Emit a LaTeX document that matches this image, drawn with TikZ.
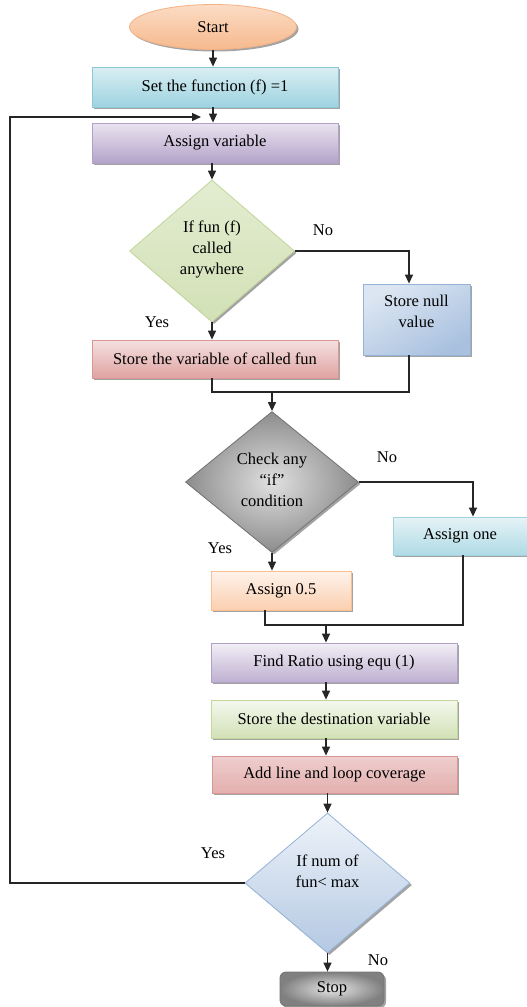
\documentclass[tikz,border=0pt]{standalone}
\usepackage{fontspec}
\setmainfont{Liberation Serif}
\usetikzlibrary{shapes.geometric,shadows,arrows.meta}
\definecolor{tealA}{HTML}{DAEEF3}\definecolor{tealB}{HTML}{9DD3E0}\definecolor{tealC}{HTML}{8CC8D8}
\definecolor{purA}{HTML}{E9E4F0}\definecolor{purB}{HTML}{B4A3C9}\definecolor{purC}{HTML}{B2A1C7}
\definecolor{grnA}{HTML}{EEF4E2}\definecolor{grnB}{HTML}{D2E1B6}\definecolor{grnC}{HTML}{C3D69B}
\definecolor{bluA}{HTML}{DCE6F2}\definecolor{bluB}{HTML}{A9C1DF}\definecolor{bluC}{HTML}{95B3D7}
\definecolor{redA}{HTML}{F4E1E0}\definecolor{redB}{HTML}{DFA3A2}\definecolor{redC}{HTML}{D99694}
\definecolor{orA}{HTML}{FEF3EC}\definecolor{orB}{HTML}{FBCFAF}\definecolor{orC}{HTML}{FABF8F}
\definecolor{stA}{HTML}{FBDCC5}\definecolor{stB}{HTML}{F6B98D}\definecolor{stC}{HTML}{F4B183}
\definecolor{gryC}{HTML}{8C8C8C}
\begin{document}
\begin{tikzpicture}[x=1pt,y=-1pt,
  font=\fontsize{16.5}{21}\selectfont,
  shad/.style={drop shadow={shadow xshift=2pt,shadow yshift=-2pt,fill=black!45,opacity=0.8}},
  boxst/.style={rectangle,draw=#1C,line width=0.8pt,shad,inner sep=0pt,align=center},
  diast/.style={diamond,draw=#1C,line width=0.8pt,shad,inner sep=0pt,aspect=1},
  txt/.style={align=center,inner sep=0pt},
  lab/.style={inner sep=0pt},
  ln/.style={line width=1.3pt,black!85},
  arr/.style={ln,-{Triangle[length=9pt,width=8pt]}}]
\useasboundingbox (0,0) rectangle (527,1007);
% nodes
\node[ellipse,draw=stC,line width=0.8pt,shad,top color=stA,bottom color=stB,
  minimum width=167pt,minimum height=45pt,inner sep=0pt] (start) at (213,27) {Start};
\node[boxst=teal,top color=tealA,bottom color=tealB,minimum width=246pt,minimum height=40pt]
  (setf) at (215,87) {Set the function (f) =1};
\node[boxst=pur,top color=purA,bottom color=purB,minimum width=246pt,minimum height=40pt]
  (assign) at (215,143) {Assign variable};
\node[diast=grn,top color=grnA!60!grnB,bottom color=grnB,minimum width=165pt,minimum height=142pt]
  (d1) at (212,251) {};
\node[txt] (d1t) at (212,249) {If fun (f)\\called\\anywhere};
\node[boxst=blu,top color=bluA,bottom color=bluB,shading angle=30,minimum width=107pt,minimum height=71pt]
  (nullv) at (416.5,319.5) {};
\node[txt] (nullt) at (416.5,311) {Store null\\value};
\node[boxst=red,top color=redA,bottom color=redB,minimum width=246pt,minimum height=38pt]
  (storevar) at (215,359) {Store the variable of called fun};
\node[diast=gry,draw=black!55,inner color=black!12,outer color=black!45,minimum width=173pt,minimum height=141pt]
  (d2) at (272,482) {};
\node[txt] (d2t) at (272,480) {Check any\\“if”\\condition};
\node[boxst=teal,draw=tealC!80,top color=tealA!70!white,bottom color=tealB!70!tealA,minimum width=134pt,minimum height=38pt]
  (assign1) at (460,536) {Assign one};
\node[boxst=or,top color=orA,bottom color=orB,minimum width=140pt,minimum height=39pt]
  (a05) at (281,590.5) {Assign 0.5};
\node[boxst=pur,top color=purA!60!white,bottom color=purB!80!purA,minimum width=246pt,minimum height=39pt]
  (ratio) at (334,662.5) {Find Ratio using equ (1)};
\node[boxst=grn,top color=grnA!60!white,bottom color=grnB,minimum width=246pt,minimum height=38pt]
  (dest) at (334,719) {Store the destination variable};
\node[boxst=red,top color=redA!70!redB,bottom color=redB!80!redA,minimum width=245pt,minimum height=37pt]
  (addl) at (334.5,774.5) {Add line and loop coverage};
\node[diast=blu,top color=bluA!50!white,bottom color=bluB!80!bluA,minimum width=165pt,minimum height=140pt]
  (d3) at (327.5,883) {};
\node[txt] (d3t) at (327.5,871) {If num of\\fun< max};
\node[rectangle,rounded corners=6pt,draw=black!55,line width=0.8pt,shad,inner color=black!10,outer color=black!50,
  minimum width=104pt,minimum height=34pt,inner sep=0pt] (stop) at (332,989) {Stop};
% labels
\node[lab] (l1) at (323,230) {No};
\node[lab] (l2) at (157,322) {Yes};
\node[lab] (l3) at (387,457) {No};
\node[lab] (l4) at (220,548) {Yes};
\node[lab] (l5) at (213,853) {Yes};
\node[lab] (l6) at (378,960) {No};
% coordinates
\coordinate (m1) at (272,392);
\coordinate (m2) at (326,625);
\coordinate (loopc) at (10,117);
\coordinate (loopend) at (201,117);
% connectors
\draw[arr] (start.south) -- (start.south |- setf.north);
\draw[arr] (setf.south -| start.south) -- (start.south |- assign.north);
\draw[arr] (assign.south -| d1.north) -- (d1.north);
\draw[arr] (d1.east) -| ([xshift=-7.5pt]nullv.north);
\draw[arr] (d1.south) -- (d1.south |- storevar.north);
\draw[ln] ([xshift=-3pt]storevar.south) |- (m1) -| ([xshift=-7.5pt]nullv.south);
\draw[arr] (m1) -- (d2.north);
\draw[arr] (d2.east) -| ([xshift=13pt]assign1.north);
\draw[arr] (d2.south) -- (d2.south |- a05.north);
\draw[ln] ([xshift=-16pt]a05.south) |- (m2) -| ([xshift=3pt]assign1.south);
\draw[arr] (m2) -- (m2 |- ratio.north);
\draw[arr] (m2 |- ratio.south) -- (m2 |- dest.north);
\draw[arr] (m2 |- dest.south) -- (m2 |- addl.north);
\draw[arr] (addl.south -| d3.north) -- (d3.north);
\draw[arr] (d3.south) -- (d3.south |- stop.north);
\draw[arr] (d3.west) -| (loopc) -- (loopend);
\end{tikzpicture}
\end{document}
